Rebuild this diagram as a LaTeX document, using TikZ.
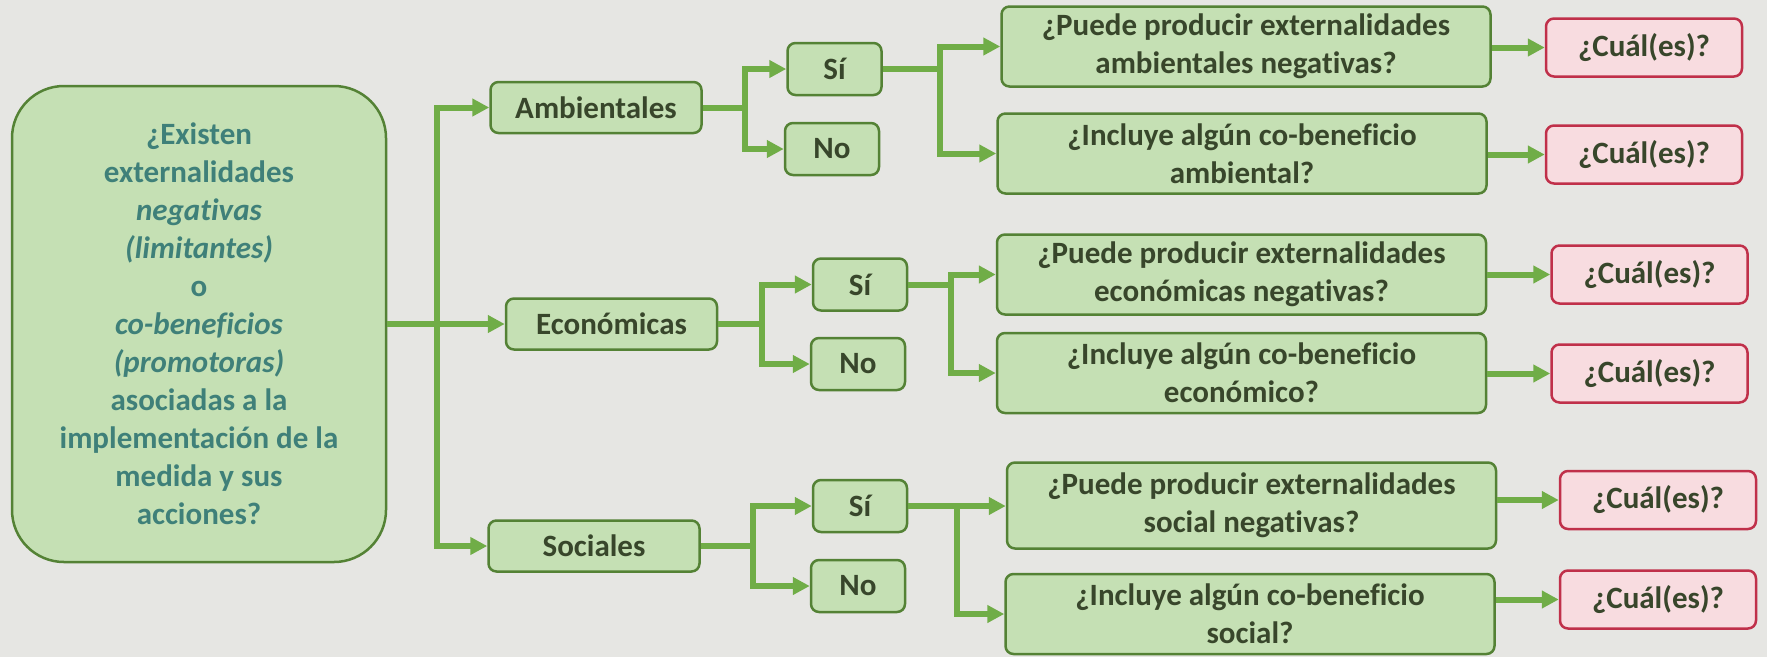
\documentclass[tikz,border=0pt]{standalone}
\usepackage{fontspec}
\setmainfont{Carlito}[Ligatures=NoCommon]
\usetikzlibrary{arrows.meta}
\definecolor{bgcol}{HTML}{E6E6E3}
\definecolor{boxfill}{HTML}{C5E0B4}
\definecolor{boxdraw}{HTML}{548235}
\definecolor{conncol}{HTML}{70AD47}
\definecolor{txtcol}{HTML}{38462B}
\definecolor{qteal}{HTML}{3F8079}
\definecolor{pinkfill}{HTML}{F8DCE0}
\definecolor{reddraw}{HTML}{C0304A}
\begin{document}
\begin{tikzpicture}[x=1pt,y=-1pt,
  box/.style={draw=boxdraw, fill=boxfill, line width=2.5pt, rounded corners=8pt,
    text=txtcol, font=\bfseries\fontsize{31}{38}\selectfont, align=center, inner sep=0pt},
  ansbox/.style={box, draw=reddraw, fill=pinkfill, minimum width=196pt, minimum height=58pt},
  yesno/.style={box, minimum width=94pt, minimum height=52pt},
  catbox/.style={box, minimum width=211pt, minimum height=51pt},
  qbox/.style={box, minimum width=489pt, minimum height=80pt},
  line/.style={draw=conncol, line width=6pt, line join=miter},
  conn/.style={line, -{Triangle[length=17pt,width=17pt]}}
  ]
\fill[bgcol] (0,0) rectangle (1767,657);

% main question
\node[box, rounded corners=52pt, minimum width=374pt, minimum height=476pt, text=qteal] (L) at (199,324)
  {¿Existen\\externalidades\\\textit{negativas}\\\textit{(limitantes)}\\o\\\textit{co-beneficios}\\\textit{(promotoras)}\\asociadas a la\\implementación de la\\medida y sus\\acciones?};

% categories
\node[catbox] (A) at (596,107.5) {Ambientales};
\node[catbox] (E) at (611.5,324) {Económicas};
\node[catbox] (S) at (594,546) {Sociales};

% yes / no
\node[yesno] (SiA) at (834.5,69) {Sí};
\node[yesno] (NoA) at (832,149) {No};
\node[yesno] (SiE) at (860,284.5) {Sí};
\node[yesno] (NoE) at (858,364) {No};
\node[yesno] (SiS) at (860,506) {Sí};
\node[yesno] (NoS) at (858,586) {No};

% questions
\node[qbox] (Q1) at (1246,46.5) {¿Puede producir externalidades\\ambientales negativas?};
\node[qbox] (Q2) at (1242,153.5) {¿Incluye algún co-beneficio\\ambiental?};
\node[qbox] (Q3) at (1241.5,274.5) {¿Puede producir externalidades\\económicas negativas?};
\node[qbox] (Q4) at (1241.5,373) {¿Incluye algún co-beneficio\\económico?};
\node[qbox, minimum height=86pt] (Q5) at (1251.5,505.5) {¿Puede producir externalidades\\social negativas?};
\node[qbox] (Q6) at (1250,614) {¿Incluye algún co-beneficio\\social?};

% answers
\node[ansbox] (C1) at (1644,47.5) {¿Cuál(es)?};
\node[ansbox] (C2) at (1644,154.5) {¿Cuál(es)?};
\node[ansbox] (C3) at (1649.5,274.5) {¿Cuál(es)?};
\node[ansbox] (C4) at (1649.5,373.5) {¿Cuál(es)?};
\node[ansbox] (C5) at (1658,500) {¿Cuál(es)?};
\node[ansbox] (C6) at (1658,599.5) {¿Cuál(es)?};

% junctions
\coordinate (jT) at (437,324);
\coordinate (jA) at (745,107.5);
\coordinate (jE) at (762,324);
\coordinate (jS) at (753,546);
\coordinate (kA) at (940,69);
\coordinate (kE) at (951,284.5);
\coordinate (kS) at (957,506);

% trunk
\draw[line] (L.east |- jT) -- (jT);
\draw[conn] (jT) -- (E);
\draw[conn] (jT) |- (A);
\draw[conn] (jT) |- (S);

% category -> yes/no
\draw[conn] (A.east) -- (jA) |- (SiA);
\draw[conn] (jA) |- (NoA);
\draw[conn] (E.east) -- (jE) |- (SiE);
\draw[conn] (jE) |- (NoE);
\draw[conn] (S.east |- jS) -- (jS) |- (SiS);
\draw[conn] (jS) |- (NoS);

% yes -> questions
\draw[conn] (SiA.east) -- (kA) |- (Q1);
\draw[conn] (kA) |- (Q2);
\draw[conn] (SiE.east) -- (kE) |- (Q3);
\draw[conn] (kE) |- (Q4);
\draw[conn] (SiS.east) -- (SiS.east -| Q5.west);
\draw[conn] (kS) |- (Q6);

% questions -> answers
\draw[conn] (Q1.east |- C1) -- (C1);
\draw[conn] (Q2.east |- C2) -- (C2);
\draw[conn] (Q3.east |- C3) -- (C3);
\draw[conn] (Q4.east |- C4) -- (C4);
\draw[conn] (Q5.east |- C5) -- (C5);
\draw[conn] (Q6.east |- C6) -- (C6);
\end{tikzpicture}
\end{document}
